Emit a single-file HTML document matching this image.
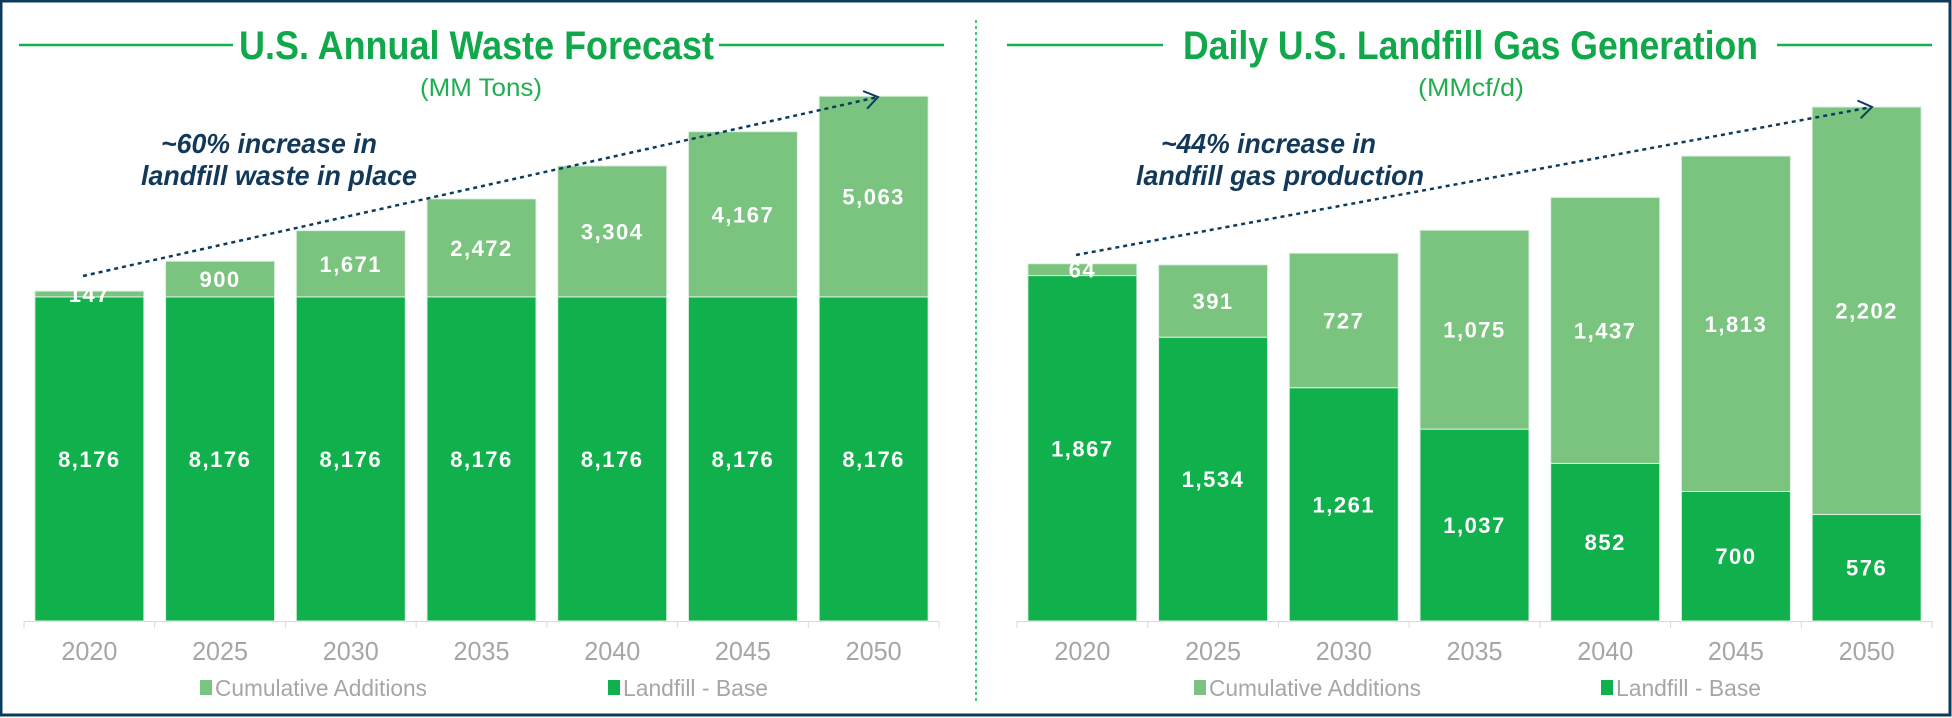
<!DOCTYPE html>
<html><head><meta charset="utf-8"><style>
html,body{margin:0;padding:0;background:#fff}
svg{display:block}
text{font-family:"Liberation Sans",sans-serif}
</style></head><body>
<svg id="chart" width="1952" height="718" viewBox="0 0 1952 718">
<rect x="1" y="1" width="1949" height="714" fill="#fff" stroke="#0d3b5e" stroke-width="3"/>
<line x1="976" y1="20" x2="976" y2="702" stroke="#10b04d" stroke-width="1.5" stroke-dasharray="3,3"/>
<g id="left"></g>
<g id="right"></g>
</svg>
<script>
const years = ["2020","2025","2030","2035","2040","2045","2050"];
const wasteBase = [8176,8176,8176,8176,8176,8176,8176];
const wasteAdd = [147,900,1671,2472,3304,4167,5063];
const gasBase = [1867,1534,1261,1037,852,700,576];
const gasAdd = [64,391,727,1075,1437,1813,2202];
const wasteYMax = 14000;
const gasYMax = 2778/514*555;

const NS="http://www.w3.org/2000/svg";
function mk(parent,tag,attrs,txt){const e=document.createElementNS(NS,tag);for(const k in attrs)e.setAttribute(k,attrs[k]);if(txt!==undefined)e.textContent=txt;parent.appendChild(e);return e;}
const fmt=v=>v.toLocaleString("en-US");

function panel(g,cfg){
  const base=621, plotH=555, x0=cfg.ax0, x1=cfg.ax1, cw=(x1-x0)/years.length, bw=109;
  const y=v=>base-v/cfg.ymax*plotH;
  const xc=i=>x0+cw*(i+0.5);
  const l1=mk(g,"line",{x1:cfg.tl[0],x2:cfg.tl[1],y1:45,y2:45,stroke:"#10b04d","stroke-width":2.5});
  
  
  const l2=mk(g,"line",{x1:cfg.tr[0],x2:cfg.tr[1],y1:45,y2:45,stroke:"#10b04d","stroke-width":2.5});
  
  
  const t=mk(g,"text",{x:cfg.tx[0],y:59,"font-size":40,"font-weight":"bold",fill:"#10a84a",textLength:cfg.tx[1]-cfg.tx[0],lengthAdjust:"spacingAndGlyphs"},cfg.title);
  
  
  const s=mk(g,"text",{x:cfg.sx,y:96,"font-size":25,fill:"#1fae50","text-anchor":"middle",textLength:cfg.sw,lengthAdjust:"spacingAndGlyphs"},cfg.sub);
  
  
  const ax=mk(g,"line",{x1:x0,x2:x1,y1:base+0.5,y2:base+0.5,stroke:"#d9d9d9","stroke-width":1});
  
  
  for(let i=0;i<=years.length;i++){
    const tk=mk(g,"line",{x1:x0+cw*i,x2:x0+cw*i,y1:base,y2:base+7,stroke:"#d9d9d9"});
    
    
  }
  years.forEach((yr,i)=>{
    const b=cfg.base[i], a=cfg.add[i], cx=xc(i);
    const rb=mk(g,"rect",{x:cx-bw/2,y:y(b),width:bw,height:base-y(b),fill:"#10b04d",stroke:"#dff0e2","stroke-width":1});
    
    
    const ra=mk(g,"rect",{x:cx-bw/2,y:y(a+b),width:bw,height:y(b)-y(a+b),fill:"#7ac47f",stroke:"#dff0e2","stroke-width":1});
    
    
    const lb=mk(g,"text",{x:cx,y:(y(b)+base)/2+8,"font-size":22,"font-weight":"bold",fill:"#fff","text-anchor":"middle","letter-spacing":"1.5"},fmt(b));
    
    
    const la=mk(g,"text",{x:cx,y:(y(b)+y(a+b))/2+8,"font-size":22,"font-weight":"bold",fill:"#fff","text-anchor":"middle","letter-spacing":"1.5"},fmt(a));
    
    
    const xl=mk(g,"text",{x:cx,y:660,"font-size":26,fill:"#a6a6a6","text-anchor":"middle",textLength:56,lengthAdjust:"spacingAndGlyphs"},yr);
    
    
  });
  const [ax1,ay1,ax2,ay2]=cfg.arrow;
  const dl=mk(g,"line",{x1:ax1,y1:ay1,x2:ax2,y2:ay2,stroke:"#0d3b5e","stroke-width":2.5,"stroke-dasharray":"4,4"});
  
  
  const ang=Math.atan2(ay2-ay1,ax2-ax1);
  const hd=i=>{const a=ang+Math.PI+i*0.6;return (ax2+16*Math.cos(a)).toFixed(1)+","+(ay2+16*Math.sin(a)).toFixed(1);};
  const ah=mk(g,"polyline",{points:hd(-1)+" "+ax2+","+ay2+" "+hd(1),fill:"none",stroke:"#0d3b5e","stroke-width":2});
  
  
  cfg.ann.forEach((ln,k)=>{
    const at=mk(g,"text",{x:(ln[1]+ln[2])/2,y:[153,185][k],"font-size":28,"font-weight":"bold","font-style":"italic",fill:"#12395a","text-anchor":"middle",textLength:ln[2]-ln[1],lengthAdjust:"spacingAndGlyphs"},ln[0]);
    
    
  });
  const lg=cfg.leg;
  const r1=mk(g,"rect",{x:lg[0],y:680,width:12,height:15,fill:"#7ac47f"});
  
  
  const t1=mk(g,"text",{x:lg[0]+15,y:696,"font-size":23,fill:"#a6a6a6",textLength:212,lengthAdjust:"spacingAndGlyphs"},"Cumulative Additions");
  
  
  const r2=mk(g,"rect",{x:lg[1],y:680,width:12,height:15,fill:"#10b04d"});
  
  
  const t2=mk(g,"text",{x:lg[1]+15,y:696,"font-size":23,fill:"#a6a6a6",textLength:145,lengthAdjust:"spacingAndGlyphs"},"Landfill - Base");
  
  
}
panel(document.getElementById("left"),{ax0:24,ax1:939,ymax:wasteYMax,base:wasteBase,add:wasteAdd,
  title:"U.S. Annual Waste Forecast",tl:[19,233],tr:[719,944],tx:[239,714],sub:"(MM Tons)",sx:481,sw:122,
  arrow:[83,276,878,97],ann:[["~60% increase in",161,377],["landfill waste in place",141,417]],leg:[200,608]});
panel(document.getElementById("right"),{ax0:1017,ax1:1932,ymax:gasYMax,base:gasBase,add:gasAdd,
  title:"Daily U.S. Landfill Gas Generation",tl:[1007,1163],tr:[1777,1932],tx:[1183,1758],sub:"(MMcf/d)",sx:1471,sw:106,
  arrow:[1076,255,1872,107],ann:[["~44% increase in",1161,1376],["landfill gas production",1136,1424]],leg:[1194,1601]});
</script>
</body></html>
